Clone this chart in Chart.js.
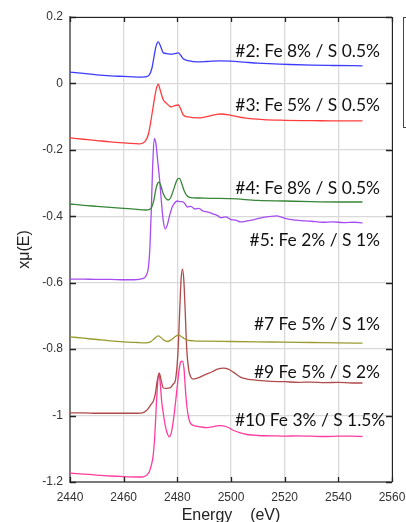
<!DOCTYPE html>
<html lang="en">
<head>
  <meta charset="UTF-8">
  <title>XANES spectra</title>
  <script src="https://cdn.jsdelivr.net/npm/chart.js"></script>
  <style>
    html, body { margin: 0; padding: 0; background: #ffffff; overflow: hidden; }
    canvas { display: block; }
  </style>
</head>
<body>
  <canvas id="xanesChart" width="406" height="522"></canvas>

  <script>
    // x ticks / y ticks
    const xTicks = [2440, 2460, 2480, 2500, 2520, 2540, 2560];
    const xTickLabels = ['2440', '2460', '2480', '2500', '2520', '2540', '2560'];
    const yTicks = [-1.2, -1, -0.8, -0.6, -0.4, -0.2, 0, 0.2];
    const yTickLabels = ['-1.2', '-1', '-0.8', '-0.6', '-0.4', '-0.2', '0', '0.2'];

    // #2 (blue)
    const blueE = [2440,2445,2450,2455,2460,2465,2468,2469.5,2470.5,2471.3,2472,2472.9,2473.6,2474.3,2474.8,2476,2477.7,2479,2480.4,2481.3,2482.2,2484,2487.5,2491,2496,2500,2505,2510,2516,2522,2530,2538,2549];
    const blueV = [0.034,0.030,0.026,0.023,0.021,0.019,0.020,0.025,0.045,0.080,0.110,0.125,0.115,0.100,0.092,0.090,0.088,0.090,0.092,0.084,0.074,0.069,0.065,0.066,0.068,0.067,0.064,0.061,0.059,0.057,0.055,0.054,0.053];

    // #3 (red)
    const redE = [2440,2445,2450,2455,2460,2464,2466,2467.5,2468.5,2469.3,2470,2470.8,2471.5,2472.2,2472.9,2473.6,2474.8,2476,2477.7,2479,2480.4,2481.3,2482.2,2484,2487.5,2491,2496,2500,2505,2512,2520,2530,2540,2549];
    const redV = [-0.164,-0.168,-0.172,-0.176,-0.179,-0.181,-0.182,-0.178,-0.168,-0.150,-0.120,-0.080,-0.045,-0.015,-0.002,-0.020,-0.050,-0.060,-0.071,-0.067,-0.065,-0.078,-0.095,-0.101,-0.104,-0.100,-0.092,-0.096,-0.104,-0.109,-0.111,-0.112,-0.113,-0.113];

    // #4 (green)
    const greenE = [2440,2445,2450,2455,2460,2465,2468,2469.5,2470.5,2471.3,2472,2472.7,2473.3,2474,2474.8,2475.8,2476.6,2477.5,2478.5,2479.5,2480.2,2480.8,2481.5,2482.5,2483.7,2485,2488,2492,2500,2510,2520,2530,2540,2549];
    const greenV = [-0.363,-0.367,-0.370,-0.373,-0.376,-0.379,-0.381,-0.380,-0.372,-0.350,-0.318,-0.300,-0.297,-0.312,-0.333,-0.347,-0.351,-0.344,-0.322,-0.298,-0.287,-0.286,-0.298,-0.322,-0.339,-0.344,-0.345,-0.346,-0.347,-0.352,-0.354,-0.356,-0.357,-0.357];

    // #5 (purple)
    const purpleE = [2440,2445,2450,2455,2460,2464,2467,2468.3,2469.2,2469.8,2470.3,2470.8,2471.4,2472,2472.7,2473.4,2474,2474.7,2475.5,2476.3,2477.2,2478.1,2479,2480,2481,2481.9,2482.8,2483.7,2485,2486.5,2488,2489.5,2491.2,2493,2495,2496.1,2498,2500,2502,2503.5,2506,2509,2512,2515,2517,2519,2521,2523,2526,2530,2534,2538,2542,2546,2549];
    const purpleV = [-0.589,-0.589,-0.590,-0.590,-0.591,-0.591,-0.588,-0.580,-0.555,-0.49,-0.38,-0.25,-0.166,-0.180,-0.235,-0.290,-0.350,-0.410,-0.438,-0.425,-0.395,-0.372,-0.360,-0.354,-0.356,-0.356,-0.362,-0.372,-0.370,-0.378,-0.376,-0.384,-0.387,-0.392,-0.398,-0.404,-0.402,-0.410,-0.412,-0.417,-0.414,-0.409,-0.403,-0.400,-0.399,-0.403,-0.408,-0.411,-0.413,-0.415,-0.418,-0.417,-0.419,-0.418,-0.420];

    // #7 (olive)
    const oliveE = [2440,2445,2450,2455,2460,2465,2468,2470,2471.5,2472.9,2474,2475,2476.3,2477.5,2478.8,2480.4,2481.5,2482.5,2483.7,2486,2490,2500,2510,2520,2530,2540,2549];
    const oliveV = [-0.763,-0.767,-0.771,-0.775,-0.778,-0.780,-0.781,-0.778,-0.768,-0.760,-0.766,-0.773,-0.777,-0.773,-0.765,-0.757,-0.762,-0.768,-0.773,-0.775,-0.776,-0.777,-0.778,-0.779,-0.780,-0.781,-0.782];

    // #9 (brown)
    const brownE = [2440,2445,2450,2455,2460,2465,2467,2468.5,2469.5,2470.3,2471,2471.8,2472.5,2473.3,2474,2474.8,2476,2477.4,2478.5,2479.3,2480.3,2480.9,2481.4,2481.9,2482.4,2482.9,2483.5,2484.2,2485,2486,2488,2490,2493,2495,2497.2,2499,2501,2503.5,2506,2510,2515,2520,2525,2530,2535,2540,2545,2549];
    const brownV = [-0.992,-0.992,-0.993,-0.993,-0.993,-0.993,-0.992,-0.985,-0.975,-0.965,-0.958,-0.935,-0.895,-0.872,-0.895,-0.917,-0.918,-0.916,-0.905,-0.893,-0.80,-0.68,-0.59,-0.559,-0.59,-0.68,-0.80,-0.86,-0.884,-0.890,-0.886,-0.878,-0.868,-0.860,-0.857,-0.860,-0.870,-0.884,-0.890,-0.894,-0.897,-0.898,-0.900,-0.899,-0.901,-0.900,-0.902,-0.902];

    // #10 (pink)
    const pinkE = [2440,2445,2450,2455,2460,2465,2467,2468.5,2469.5,2470.3,2471,2471.6,2472.1,2472.6,2473.1,2473.6,2474.2,2474.8,2475.5,2476.3,2477,2477.8,2478.6,2479.3,2480,2480.7,2481.3,2481.9,2482.5,2483,2483.6,2484.3,2485,2486.5,2488.6,2491,2493.5,2495.5,2497.2,2499,2501,2503.5,2506,2510,2515,2520,2525,2530,2535,2540,2545,2549];
    const pinkV = [-1.173,-1.176,-1.179,-1.182,-1.184,-1.185,-1.185,-1.180,-1.170,-1.150,-1.120,-1.06,-0.98,-0.91,-0.872,-0.90,-0.96,-0.995,-1.03,-1.055,-1.064,-1.050,-1.010,-0.962,-0.91,-0.86,-0.838,-0.836,-0.86,-0.92,-0.975,-1.010,-1.024,-1.031,-1.034,-1.036,-1.033,-1.030,-1.031,-1.036,-1.045,-1.052,-1.057,-1.060,-1.061,-1.062,-1.061,-1.062,-1.063,-1.062,-1.062,-1.063];

    const sampleNames = ['#2: Fe 8% / S 0.5%', '#3: Fe 5% / S 0.5%', '#4: Fe 8% / S 0.5%', '#5: Fe 2% / S 1%', '#7 Fe 5% / S 1%', '#9 Fe 5% / S 2%', '#10 Fe 3% / S 1.5%'];

    // where the sample names sit (data units: right edge energy, middle value)
    const notePos = [[2555.5, 0.095], [2555.5, -0.065], [2555.5, -0.315], [2555.5, -0.474], [2555.5, -0.724], [2555.5, -0.869], [2557.5, -1.016]];

    const toXY = (es, vs) => es.map((e, i) => ({ x: e, y: vs[i] }));

    const series = [
      { data: toXY(blueE, blueV), color: '#3c3cff' },
      { data: toXY(redE, redV), color: '#ff3c3c' },
      { data: toXY(greenE, greenV), color: '#378537' },
      { data: toXY(purpleE, purpleV), color: '#a64cf0' },
      { data: toXY(oliveE, oliveV), color: '#9a9a30' },
      { data: toXY(brownE, brownV), color: '#b04a4a' },
      { data: toXY(pinkE, pinkV), color: '#ff3c9e' }
    ];

    const framePlugin = {
      id: 'frame',
      afterDatasetsDraw(chart) {
        const { ctx, chartArea: a, scales } = chart;
        ctx.save();
        ctx.strokeStyle = '#222';
        ctx.lineWidth = 1;
        ctx.beginPath();
        ctx.moveTo(a.left, a.top + 0.5);
        ctx.lineTo(a.right + 0.5, a.top + 0.5);
        ctx.lineTo(a.right + 0.5, a.bottom);
        ctx.stroke();

        // inner tick marks
        ctx.lineWidth = 1.3;
        ctx.beginPath();
        xTicks.forEach(v => {
          const px = Math.round(scales.x.getPixelForValue(v)) + 0.5;
          ctx.moveTo(px, a.top); ctx.lineTo(px, a.top + 5);
          ctx.moveTo(px, a.bottom); ctx.lineTo(px, a.bottom - 5);
        });
        yTicks.forEach(v => {
          const py = Math.round(scales.y.getPixelForValue(v)) + 0.5;
          ctx.moveTo(a.left, py); ctx.lineTo(a.left + 6, py);
          ctx.moveTo(a.right, py); ctx.lineTo(a.right - 6, py);
        });
        ctx.stroke();

        // edge of the cut-off box on the right
        ctx.strokeStyle = '#444';
        ctx.lineWidth = 1;
        ctx.strokeRect(403.5, 17.5, 30, 110);

        // sample names
        ctx.fillStyle = '#111';
        ctx.font = '17.4px Lato, "Open Sans", sans-serif';
        ctx.textAlign = 'right';
        ctx.textBaseline = 'middle';
        sampleNames.forEach((t, i) => {
          const [e, v] = notePos[i];
          ctx.fillText(t, scales.x.getPixelForValue(e), scales.y.getPixelForValue(v));
        });
        ctx.restore();
      }
    };

    const ctx = document.getElementById('xanesChart').getContext('2d');
    new Chart(ctx, {
      type: 'line',
      data: {
        datasets: series.map(s => ({
          data: s.data,
          borderColor: s.color,
          borderWidth: 1.3,
          pointRadius: 0,
          fill: false,
          cubicInterpolationMode: 'monotone'
        }))
      },
      options: {
        responsive: false,
        animation: false,
        events: [],
        layout: { padding: { left: 0, top: 17, right: 14, bottom: 0 } },
        plugins: {
          legend: { display: false },
          tooltip: { enabled: false }
        },
        scales: {
          x: {
            type: 'linear',
            min: 2440,
            max: 2560,
            afterFit: s => { s.height = 40; s.paddingLeft = 0; s.paddingRight = 0; },
            afterBuildTicks: s => { s.ticks = xTicks.map(v => ({ value: v })); },
            ticks: {
              color: '#333',
              font: { family: '"Liberation Sans", Arial, sans-serif', size: 12 },
              padding: 8,
              maxRotation: 0,
              callback: (v, i) => xTickLabels[i]
            },
            grid: { color: '#d9d9d9', lineWidth: 1.3, drawTicks: false },
            border: { display: true, color: '#7a7a7a', width: 2 },
            title: {
              display: true,
              text: 'Energy    (eV)',
              color: '#222',
              font: { family: '"Liberation Sans", Arial, sans-serif', size: 16 },
              padding: { top: 0, bottom: -3 }
            }
          },
          y: {
            min: -1.2,
            max: 0.2,
            afterFit: s => { s.width = 70; s.paddingTop = 0; s.paddingBottom = 0; },
            afterBuildTicks: s => { s.ticks = yTicks.map(v => ({ value: v })); },
            ticks: {
              color: '#333',
              font: { family: '"Liberation Sans", Arial, sans-serif', size: 12 },
              padding: 7,
              callback: (v, i) => yTickLabels[i]
            },
            grid: { color: '#d9d9d9', lineWidth: 1.3, drawTicks: false },
            border: { display: true, color: '#7a7a7a', width: 2 },
            title: {
              display: true,
              text: 'xμ(E)',
              color: '#222',
              font: { family: '"Liberation Sans", Arial, sans-serif', size: 16 },
              padding: { top: 15, bottom: 0 }
            }
          }
        }
      },
      plugins: [framePlugin]
    });
  </script>
</body>
</html>
